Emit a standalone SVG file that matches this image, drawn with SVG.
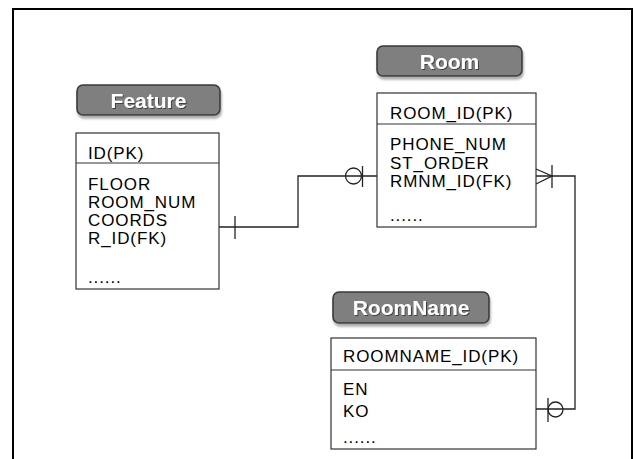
<svg xmlns="http://www.w3.org/2000/svg" width="634" height="459" viewBox="0 0 634 459">
<style>
.frame{fill:#fff;stroke:#000;stroke-width:2}
.box{fill:#fff;stroke:#333;stroke-width:1.2}
.div{stroke:#333;stroke-width:1.2}
.lbl{fill:#7f7f7f;stroke:#3a3a3a;stroke-width:1.6}
.lt{font-family:"Liberation Sans",Arial,sans-serif;font-weight:bold;font-size:21px;fill:#fff;text-anchor:middle}
.t{font-family:"Liberation Sans",Arial,sans-serif;font-size:17px;fill:#000;letter-spacing:0.9px}
.c{fill:none;stroke:#222;stroke-width:1.3}
</style>
<defs>
<filter id="sh" x="-10%" y="-20%" width="125%" height="160%">
<feDropShadow dx="1" dy="3" stdDeviation="1.2" flood-color="#999" flood-opacity="0.8"/>
</filter>
<filter id="ts" x="-10%" y="-20%" width="125%" height="160%">
<feDropShadow dx="1" dy="1" stdDeviation="0.5" flood-color="#333" flood-opacity="0.8"/>
</filter>
</defs>
<rect class="frame" x="13" y="9" width="619" height="460"/>

<g id="connectors">
<path class="c" d="M219,227 H298 V176 H377"/>
<line class="c" x1="235" y1="216" x2="235" y2="239"/>
<circle class="c" cx="353.5" cy="176" r="8"/>
<line class="c" x1="362.5" y1="166" x2="362.5" y2="187"/>
<path class="c" d="M536,176 H575 V409 H536"/>
<path class="c" d="M536,169 L552,176 L536,184"/>
<line class="c" x1="552" y1="165" x2="552" y2="188"/>
<circle class="c" cx="555.5" cy="409.5" r="7.5"/>
<line class="c" x1="548" y1="398" x2="548" y2="422"/>
</g>

<g id="feature">
<rect class="lbl" x="77" y="85" width="143" height="30" rx="6" filter="url(#sh)"/>
<text class="lt" x="148.5" y="108" filter="url(#ts)">Feature</text>
<rect class="box" x="76" y="133" width="143" height="156"/>
<line class="div" x1="76" y1="163" x2="219" y2="163"/>
<text class="t" x="88" y="159">ID(PK)</text>
<text class="t" x="88" y="190">FLOOR</text>
<text class="t" x="88" y="208">ROOM_NUM</text>
<text class="t" x="88" y="226">COORDS</text>
<text class="t" x="88" y="244">R_ID(FK)</text>
<text class="t" x="88" y="283">......</text>
</g>

<g id="room">
<rect class="lbl" x="377" y="46" width="145" height="30" rx="6" filter="url(#sh)"/>
<text class="lt" x="449.5" y="69" filter="url(#ts)">Room</text>
<rect class="box" x="377" y="93" width="159" height="134"/>
<line class="div" x1="377" y1="124" x2="536" y2="124"/>
<text class="t" x="390" y="119">ROOM_ID(PK)</text>
<text class="t" x="390" y="150">PHONE_NUM</text>
<text class="t" x="390" y="168.5">ST_ORDER</text>
<text class="t" x="390" y="187">RMNM_ID(FK)</text>
<text class="t" x="390" y="221">......</text>
</g>

<g id="roomname">
<rect class="lbl" x="333" y="292" width="156" height="31" rx="6" filter="url(#sh)"/>
<text class="lt" x="411" y="315" filter="url(#ts)">RoomName</text>
<rect class="box" x="331" y="338" width="205" height="111"/>
<line class="div" x1="331" y1="370" x2="536" y2="370"/>
<text class="t" x="343" y="362">ROOMNAME_ID(PK)</text>
<text class="t" x="343" y="395">EN</text>
<text class="t" x="343" y="417">KO</text>
<text class="t" x="343" y="443">......</text>
</g>
</svg>
